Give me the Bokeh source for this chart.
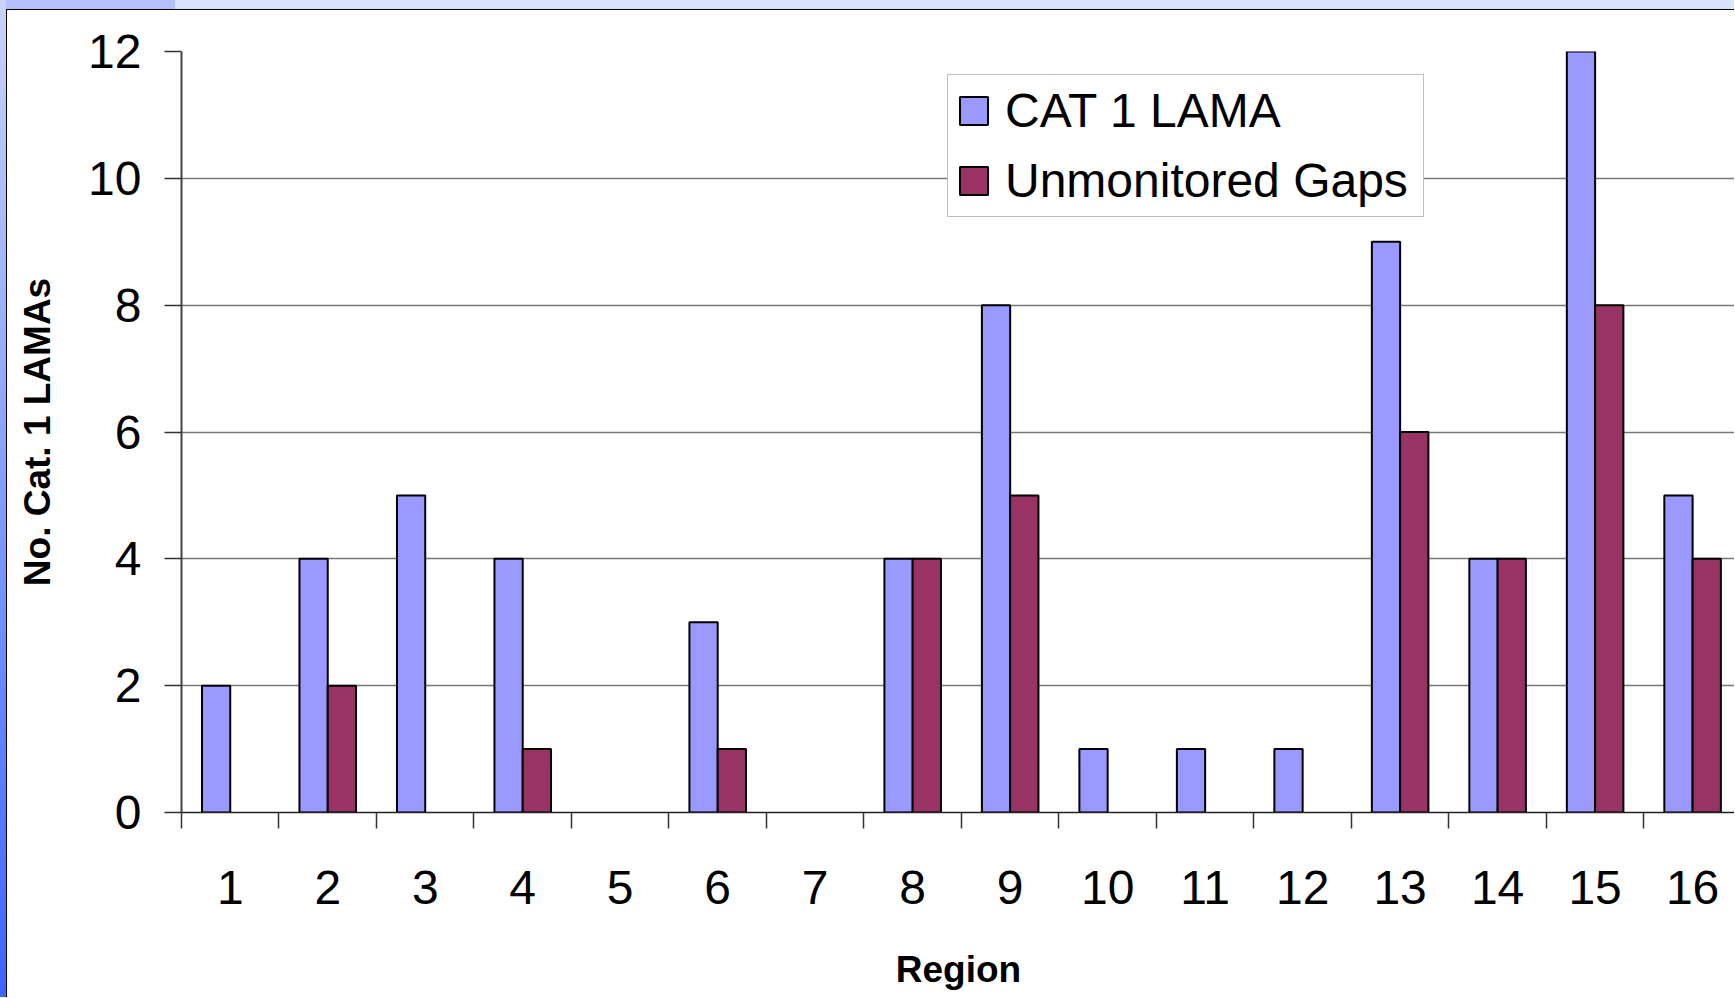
from bokeh.plotting import figure
from bokeh.layouts import column
from bokeh.models import ColumnDataSource, FixedTicker, Range1d, Legend, LegendItem
from bokeh.transform import dodge
from bokeh.embed import file_html
from bokeh.resources import INLINE

regions = [str(i) for i in range(1, 17)]
cat1_lama = [2, 4, 5, 4, 0, 3, 0, 4, 8, 1, 1, 1, 9, 4, 12, 5]
unmonitored_gaps = [0, 2, 0, 1, 0, 1, 0, 4, 5, 0, 0, 0, 6, 4, 8, 4]
y_ticks = [0, 2, 4, 6, 8, 10, 12]

FONT = "Liberation Sans"
xs = list(range(1, len(regions) + 1))

# zero-height bars are not drawn in the reference
src_a = ColumnDataSource(dict(x=[x for x, v in zip(xs, cat1_lama) if v > 0],
                              v=[v for v in cat1_lama if v > 0]))
src_b = ColumnDataSource(dict(x=[x for x, v in zip(xs, unmonitored_gaps) if v > 0],
                              v=[v for v in unmonitored_gaps if v > 0]))

p = figure(width=1728, height=988, output_backend="svg", toolbar_location=None,
           x_range=Range1d(0.5, 16.44), y_range=Range1d(0, 12),
           min_border_left=174, min_border_top=41, min_border_bottom=186, min_border_right=0)
p.styles = {"border-top": "1px solid #000000", "border-left": "1px solid #000000"}
p.background_fill_color = "white"
p.border_fill_color = "white"
p.outline_line_color = None

bw = 0.29
r1 = p.vbar(x=dodge("x", -bw / 2), top="v", width=bw, bottom=0, source=src_a, fill_color="#9999FF",
            line_color="black", line_width=2)
r2 = p.vbar(x=dodge("x", bw / 2), top="v", width=bw, bottom=0, source=src_b, fill_color="#993366",
            line_color="black", line_width=2)

# axes
p.xaxis.ticker = FixedTicker(ticks=xs, minor_ticks=[i + 0.5 for i in range(0, 17)])
p.xaxis.major_label_overrides = {i: regions[i - 1] for i in xs}
p.xaxis.major_tick_out = 0
p.xaxis.major_tick_in = 0
p.xaxis.minor_tick_out = 16
p.xaxis.minor_tick_in = 0
p.xaxis.minor_tick_line_color = "#333333"
p.xaxis.minor_tick_line_width = 1.5
p.xaxis.axis_line_color = "#222222"
p.xaxis.axis_line_width = 1.5
p.xaxis.major_label_text_font = FONT
p.xaxis.major_label_text_font_size = "48px"
p.xaxis.major_label_text_color = "black"
p.xaxis.major_label_standoff = 42
p.xaxis.axis_label = "Region"
p.xaxis.axis_label_text_font = FONT
p.xaxis.axis_label_text_font_size = "37px"
p.xaxis.axis_label_text_font_style = "bold"
p.xaxis.axis_label_text_color = "black"
p.xaxis.axis_label_standoff = 42

p.yaxis.ticker = FixedTicker(ticks=y_ticks)
p.yaxis.minor_tick_line_color = None
p.yaxis.major_tick_out = 17
p.yaxis.major_tick_in = 0
p.yaxis.major_tick_line_color = "#333333"
p.yaxis.major_tick_line_width = 1.5
p.yaxis.axis_line_color = "#444444"
p.yaxis.axis_line_width = 2
p.yaxis.major_label_text_font = FONT
p.yaxis.major_label_text_font_size = "48px"
p.yaxis.major_label_text_color = "black"
p.yaxis.major_label_standoff = 23
p.yaxis.axis_label = "No. Cat. 1 LAMAs"
p.yaxis.axis_label_text_font = FONT
p.yaxis.axis_label_text_font_size = "37px"
p.yaxis.axis_label_text_font_style = "bold"
p.yaxis.axis_label_text_color = "black"
p.yaxis.axis_label_standoff = 27

p.xgrid.grid_line_color = None
p.ygrid.ticker = FixedTicker(ticks=y_ticks)
p.ygrid.grid_line_color = "#777777"
p.ygrid.grid_line_width = 1.5

legend = Legend(items=[LegendItem(label="CAT 1 LAMA", renderers=[r1]),
                       LegendItem(label="Unmonitored Gaps", renderers=[r2])],
                location=(766, 595))
legend.label_text_font = FONT
legend.label_text_font_size = "48px"
legend.label_text_color = "black"
legend.glyph_width = 35
legend.glyph_height = 35
legend.label_standoff = 14
legend.label_width = 410
legend.label_height = 50
legend.spacing = 15
legend.padding = 8
legend.margin = 0
legend.border_line_color = "#808080"
legend.border_line_width = 1.5
legend.background_fill_color = "white"
legend.background_fill_alpha = 1
p.add_layout(legend, "center")

page = column(p, styles={
    "padding-top": "9px",
    "padding-left": "6px",
    "background": ("linear-gradient(to bottom, #C9D3FA, #3A66FF) left top / 6px 100% no-repeat, "
                   "linear-gradient(to right, #B3C0FA 175px, #D8E3FC 175px) left top / 100% 9px no-repeat, "
                   "white"),
})

open("out.html", "w").write(file_html(page, INLINE))
